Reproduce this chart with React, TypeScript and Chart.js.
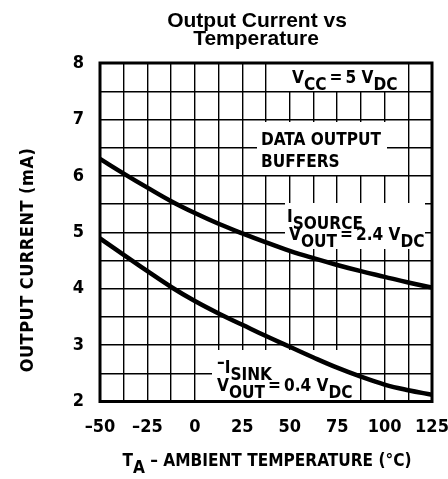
import React, { useEffect, useRef } from 'react';
import { Chart, registerables } from 'chart.js';

Chart.register(...registerables);

// ---- data ----
const temperatures = [-50, -37.5, -25, -12.5, 0, 12.5, 25, 37.5, 50, 62.5, 75, 87.5, 100, 112.5, 125];
const sourceCurrent = [6.3, 6.04, 5.79, 5.55, 5.34, 5.15, 4.98, 4.82, 4.67, 4.54, 4.42, 4.31, 4.21, 4.11, 4.02];
const sinkCurrent = [4.89, 4.6, 4.31, 4.03, 3.78, 3.56, 3.36, 3.16, 2.97, 2.78, 2.6, 2.44, 2.3, 2.2, 2.12];
const xTickValues = [-50, -25, 0, 25, 50, 75, 100, 125];
const yTickValues = [2, 3, 4, 5, 6, 7, 8];
const titleLines = ['Output Current vs', 'Temperature'];
const yAxisTitle = 'OUTPUT CURRENT (mA)';

// [text, vertical offset]
type Part = [string, number];
const S = 7; // subscript drop
const xAxisTitleParts: Part[] = [['T', 0], ['A', S], [' \u2013 AMBIENT TEMPERATURE (\u00B0C)', 0]];

const COND = "'DejaVu Sans Condensed', 'Liberation Sans Narrow', 'DejaVu Sans', sans-serif";
const FONT = `bold 18px ${COND}`;
const HS = 0.95; // horizontal squeeze of annotation text
const EQ = '\u2009=\u2009';

interface Note { box: [number, number, number, number]; lines: { x: number; y: number; parts: Part[] }[] }
const notes: Note[] = [
  { box: [289, 63, 408, 91], lines: [{ x: 292, y: 83, parts: [['V', 0], ['CC', S], [EQ + '5 V', 0], ['DC', S]] }] },
  { box: [257, 122, 387, 175], lines: [
    { x: 261, y: 145, parts: [['DATA OUTPUT', 0]] },
    { x: 261, y: 167, parts: [['BUFFERS', 0]] },
  ] },
  { box: [285, 203, 425, 249], lines: [
    { x: 287, y: 222, parts: [['I', 0], ['SOURCE', S]] },
    { x: 289, y: 240, parts: [['V', 0], ['OUT', S], [EQ + '2.4 V', 0], ['DC', S]] },
  ] },
  { box: [212, 350, 357, 401], lines: [
    { x: 217, y: 373, parts: [['\u2013', -5], ['I', 0], ['SINK', S]] },
    { x: 217, y: 391, parts: [['V', 0], ['OUT', S], [EQ + '0.4 V', 0], ['DC', S]] },
  ] },
];

function richWidth(ctx: CanvasRenderingContext2D, parts: Part[]) {
  return parts.reduce((w, p) => w + ctx.measureText(p[0]).width, 0) * HS;
}
function drawRich(ctx: CanvasRenderingContext2D, x: number, y: number, parts: Part[]) {
  ctx.save();
  ctx.translate(x, y);
  ctx.scale(HS, 1);
  let cx = 0;
  for (const [t, dy] of parts) {
    ctx.fillText(t, cx, dy);
    cx += ctx.measureText(t).width;
  }
  ctx.restore();
}

const decorPlugin = {
  id: 'decor',
  beforeDatasetsDraw(chart: any) {
    const ctx = chart.ctx as CanvasRenderingContext2D;
    ctx.save();
    ctx.fillStyle = '#fff';
    for (const n of notes) {
      const [x1, y1, x2, y2] = n.box;
      ctx.fillRect(x1, y1, x2 - x1, y2 - y1);
    }
    ctx.restore();
  },
  afterDatasetsDraw(chart: any) {
    const ctx = chart.ctx as CanvasRenderingContext2D;
    const a = chart.chartArea;
    ctx.save();
    ctx.strokeStyle = '#000';
    ctx.lineWidth = 3;
    ctx.strokeRect(a.left, a.top, a.right - a.left, a.bottom - a.top);
    ctx.fillStyle = '#000';
    ctx.font = FONT;
    ctx.textBaseline = 'alphabetic';
    ctx.textAlign = 'left';
    for (const n of notes) for (const l of n.lines) drawRich(ctx, l.x, l.y, l.parts);

    // title
    ctx.font = "bold 21px 'Liberation Sans', Arial, sans-serif";
    ctx.textAlign = 'center';
    ctx.fillText(titleLines[0], 257, 27);
    ctx.fillText(titleLines[1], 256, 45);

    // x axis title
    ctx.font = FONT;
    ctx.textAlign = 'left';
    const w = richWidth(ctx, xAxisTitleParts);
    drawRich(ctx, 267 - w / 2, 466, xAxisTitleParts);

    // y axis title
    ctx.translate(33, 260);
    ctx.rotate(-Math.PI / 2);
    ctx.textAlign = 'center';
    (ctx as any).letterSpacing = '0.5px';
    ctx.fillText(yAxisTitle, 0, 0);
    ctx.restore();
  },
};

export default function App() {
  const ref = useRef<HTMLCanvasElement>(null);
  useEffect(() => {
    document.body.style.margin = '0';
    Chart.defaults.color = '#000';
    const lineStyle = { borderColor: '#000', borderWidth: 4.5, pointRadius: 0, tension: 0.4 };
    const tickFont = { family: COND, weight: 'bold', size: 18 };
    const chart = new Chart(ref.current!, {
      type: 'line',
      data: {
        datasets: [
          { label: 'I SOURCE', data: temperatures.map((t, i) => ({ x: t, y: sourceCurrent[i] })), ...lineStyle },
          { label: '-I SINK', data: temperatures.map((t, i) => ({ x: t, y: sinkCurrent[i] })), ...lineStyle },
        ],
      },
      options: {
        responsive: false,
        animation: false,
        devicePixelRatio: 1,
        layout: { padding: { top: 63, right: 0, bottom: 0, left: 0 } },
        plugins: { legend: { display: false }, title: { display: false }, tooltip: { enabled: false } },
        scales: {
          x: {
            type: 'linear',
            min: -50,
            max: 125,
            afterFit: (s: any) => { s.height = 77.5; s.paddingRight = 16; s.paddingLeft = 0; },
            border: { display: false },
            grid: { color: '#000', lineWidth: 1.4, drawTicks: false },
            ticks: {
              stepSize: 12.5,
              autoSkip: false,
              maxRotation: 0,
              padding: 15,
              font: tickFont,
              color: '#000',
              callback: (v: any) => (xTickValues.includes(Number(v)) ? (Number(v) < 0 ? '\u2013' + Math.abs(Number(v)) : String(v)) : ''),
            },
          },
          y: {
            min: 2,
            max: 8,
            afterFit: (s: any) => { s.width = 100; },
            border: { display: false },
            grid: { color: '#000', lineWidth: 1.4, drawTicks: false },
            ticks: {
              stepSize: 0.5,
              autoSkip: false,
              padding: 16,
              font: tickFont,
              color: '#000',
              callback: (v: any) => (yTickValues.includes(Number(v)) ? String(v) : ''),
            },
          },
        },
      },
      plugins: [decorPlugin],
    } as any);
    return () => chart.destroy();
  }, []);
  return <canvas ref={ref} width={448} height={479} style={{ display: 'block' }} />;
}
